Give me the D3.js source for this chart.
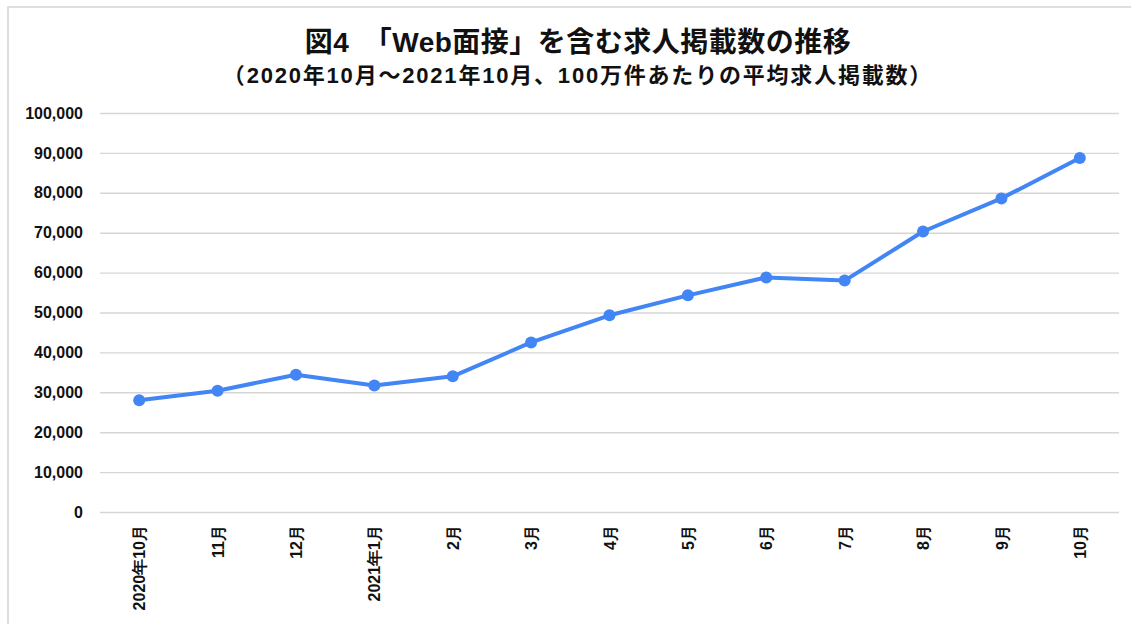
<!DOCTYPE html>
<meta charset="utf-8">
<style>
  body { margin: 0; background: #fff; }
  svg { display: block; font-family: "Liberation Sans", Arial, "Noto Sans CJK JP", sans-serif; }
  .grid line { stroke: #d6d6d6; stroke-width: 1.4; }
  .tick text { font-weight: bold; font-size: 16px; fill: #111; }
</style>

<svg width="1131" height="624"></svg>

<!-- load the d3.js library -->
<script src="https://cdn.jsdelivr.net/npm/d3@7"></script>

<script>

// data
var months = ["2020年10月", "11月", "12月", "2021年1月", "2月", "3月", "4月", "5月", "6月", "7月", "8月", "9月", "10月"];
var listings = [28000, 30400, 34400, 31700, 34000, 42500, 49300, 54300, 58800, 58000, 70300, 78600, 88700];
var yTicks = [0, 10000, 20000, 30000, 40000, 50000, 60000, 70000, 80000, 90000, 100000];

var title = "図4　「Web面接」を含む求人掲載数の推移";
var subtitle = "（2020年10月～2021年10月、100万件あたりの平均求人掲載数）";

var svg = d3.select("svg"),
    margin = {top: 113, right: 12, bottom: 112, left: 100},
    width = +svg.attr("width") - margin.left - margin.right,
    height = +svg.attr("height") - margin.top - margin.bottom;

// outer frame
svg.append("rect")
    .attr("x", 8)
    .attr("y", 7)
    .attr("width", 1140)
    .attr("height", 640)
    .attr("fill", "none")
    .attr("stroke", "#d3d3d3")
    .attr("stroke-width", 1.5);

// titles
svg.append("text")
    .attr("x", 578)
    .attr("y", 52)
    .attr("text-anchor", "middle")
    .style("font-size", "28px")
    .style("font-weight", "bold")
    .style("letter-spacing", "0.5px")
    .style("fill", "#111")
    .text(title);

svg.append("text")
    .attr("x", 578)
    .attr("y", 83)
    .attr("text-anchor", "middle")
    .style("font-size", "22px")
    .style("font-weight", "bold")
    .style("letter-spacing", "1.8px")
    .style("fill", "#111")
    .text(subtitle);

var g = svg.append("g").attr("transform", "translate(" + margin.left + "," + margin.top + ")");

//Set the ranges
var x = d3.scalePoint().domain(months).range([0, width]).padding(0.5);
var y = d3.scaleLinear().domain([0, 100000]).range([height, 0]);

// gridlines + y labels
g.append("g")
    .attr("class", "grid")
    .call(d3.axisLeft(y)
        .tickValues(yTicks)
        .tickSize(-width)
        .tickPadding(17)
        .tickFormat(d3.format(",")))
    .call(function(a) { a.select(".domain").remove(); });

// x labels, rotated
g.append("g")
    .attr("class", "x axis")
    .attr("transform", "translate(0," + height + ")")
    .call(d3.axisBottom(x).tickSize(0))
    .call(function(a) { a.select(".domain").remove(); })
    .selectAll("text")
    .attr("transform", "rotate(-90)")
    .attr("text-anchor", "end")
    .attr("x", -13)
    .attr("y", 0)
    .attr("dy", "0.35em");

//create the line
var line = d3.line()
    .x(function(d, i) { return x(months[i]); })
    .y(function(d) { return y(d); });

g.append("path")
    .attr("d", line(listings))
    .attr("stroke", "#4285f4")
    .attr("fill", "none")
    .attr("stroke-width", 4)
    .attr("stroke-linejoin", "round");

g.selectAll(".dot")
    .data(listings)
    .enter().append("circle")
    .attr("class", "dot")
    .attr("cx", function(d, i) { return x(months[i]); })
    .attr("cy", function(d) { return y(d); })
    .attr("r", 6)
    .attr("fill", "#4285f4");

</script>
